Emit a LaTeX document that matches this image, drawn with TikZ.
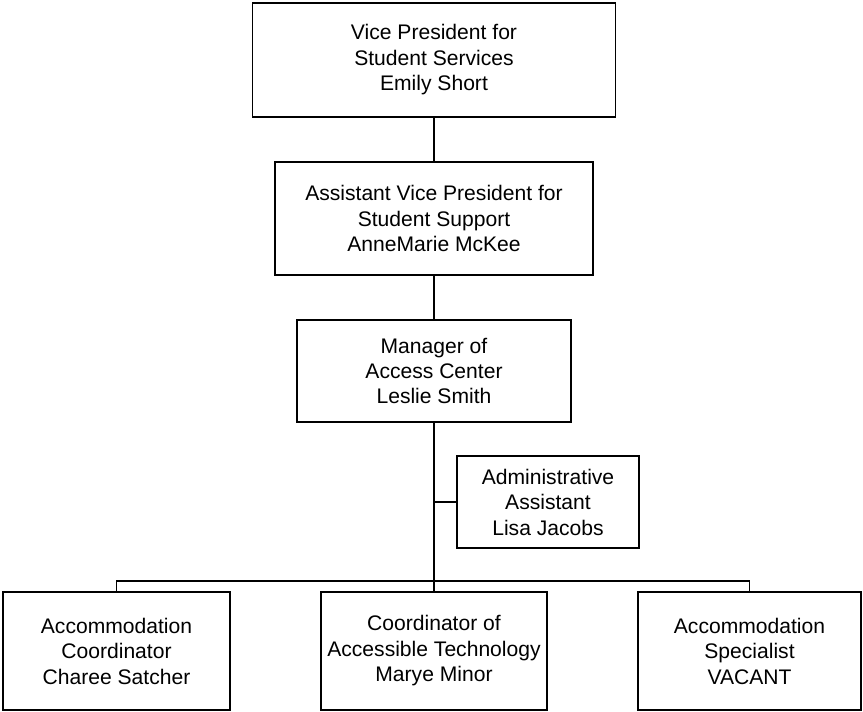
\documentclass[tikz,border=0pt]{standalone}
\usepackage{fontspec}
\setmainfont{Liberation Sans}
\usepackage{tikz}
\usetikzlibrary{calc}

\begin{document}
\begin{tikzpicture}[scale=1.0,
    post/.style={draw, line width=0.9pt, align=center, inner sep=0pt,
      font=\fontsize{12}{14.5}\selectfont},
    link/.style={line width=0.9pt}]
  \useasboundingbox (0,0) rectangle (17.26,14.24);

  % Top of the chart
  \node[post, minimum width=7.26cm, minimum height=2.28cm] (vp) at (8.68,13.04)
    {Vice President for\\Student Services\\Emily Short};
  \node[post, minimum width=6.36cm, minimum height=2.26cm] (avp) at (8.68,9.87)
    {Assistant Vice President for\\Student Support\\AnneMarie McKee};
  \node[post, minimum width=5.48cm, minimum height=2.04cm] (mgr) at (8.68,6.82)
    {Manager of\\Access Center\\Leslie Smith};

  % Assistant beside the trunk
  \node[post, minimum width=3.64cm, minimum height=1.84cm] (asst) at (10.96,4.20)
    {Administrative\\Assistant\\Lisa Jacobs};

  % Bottom row
  \node[post, minimum width=4.54cm, minimum height=2.36cm] (acc) at (2.33,1.22)
    {Accommodation\\Coordinator\\Charee Satcher};
  \node[post, minimum width=4.52cm, minimum height=2.36cm] (tech) at (8.68,1.22)
    {Coordinator of\\Accessible Technology\\Marye Minor};
  \node[post, minimum width=4.46cm, minimum height=2.36cm] (spec) at (14.99,1.22)
    {Accommodation\\Specialist\\VACANT};
  \coordinate (bus) at (8.68,2.62);

  % Connectors
  \draw[link] (vp.south) -- (avp.north);
  \draw[link] (avp.south) -- (mgr.north);
  \draw[link] (mgr.south) -- (tech.north);
  \draw[link] (asst.west) -- (asst.west -| mgr.south);
  \draw[link] (acc.north) |- (bus) -| (spec.north);

\end{tikzpicture}
\end{document}
